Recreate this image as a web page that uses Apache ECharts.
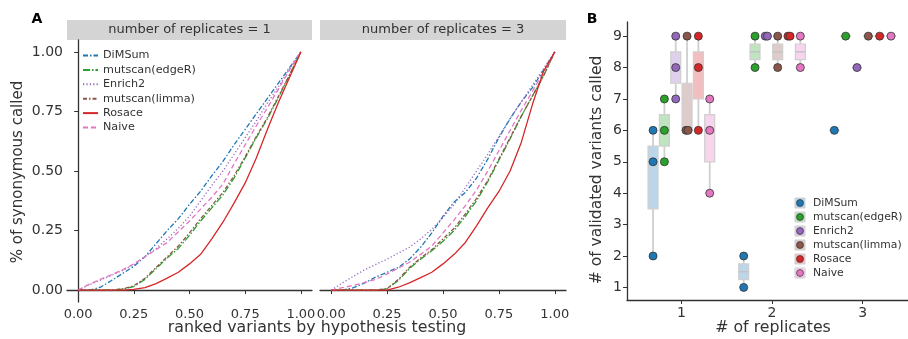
<!DOCTYPE html>
<html><head><meta charset="utf-8">
<script src="https://cdn.jsdelivr.net/npm/echarts@6/dist/echarts.min.js"></script>
<style>html,body{margin:0;padding:0;background:#fff}#c{width:908px;height:339px}</style>
</head><body><div id="c"></div>
<script>
// ---------- DATA ----------
const methods = ['DiMSum','mutscan(edgeR)','Enrich2','mutscan(limma)','Rosace','Naive'];
const facetTitles = ['number of replicates = 1','number of replicates = 3'];
const curveTicks = [0, 0.25, 0.5, 0.75, 1];
const xGrid = [0,0.05,0.1,0.15,0.2,0.25,0.3,0.35,0.4,0.45,0.5,0.55,0.6,0.65,0.7,0.75,0.8,0.85,0.9,0.95,1];
// panel A, 1 replicate
const dimsum1 = [0,0,0.012,0.04,0.07,0.10,0.14,0.195,0.25,0.30,0.36,0.415,0.48,0.54,0.61,0.675,0.74,0.805,0.87,0.935,1];
const edger1  = [0,0,0,0,0.004,0.015,0.045,0.09,0.135,0.175,0.23,0.29,0.345,0.40,0.47,0.555,0.64,0.72,0.81,0.905,1];
const enrich1 = [0,0.022,0.042,0.062,0.083,0.107,0.14,0.175,0.215,0.26,0.31,0.375,0.44,0.50,0.57,0.64,0.71,0.785,0.855,0.93,1];
const limma1  = [0,0,0,0,0.005,0.018,0.05,0.095,0.14,0.185,0.24,0.30,0.355,0.41,0.48,0.56,0.645,0.725,0.815,0.905,1];
const rosace1 = [0,0,0,0,0,0.003,0.01,0.027,0.05,0.075,0.11,0.15,0.215,0.285,0.365,0.45,0.555,0.675,0.79,0.895,1];
const naive1  = [0,0.025,0.045,0.065,0.085,0.11,0.14,0.17,0.20,0.245,0.29,0.34,0.39,0.445,0.53,0.61,0.69,0.765,0.845,0.925,1];
// panel A, 3 replicates
const dimsum3 = [0,0,0.01,0.03,0.055,0.075,0.095,0.13,0.18,0.24,0.31,0.37,0.41,0.47,0.55,0.64,0.72,0.79,0.85,0.925,1];
const edger3  = [0,0,0,0,0,0.005,0.04,0.09,0.13,0.165,0.205,0.25,0.31,0.375,0.455,0.545,0.635,0.73,0.815,0.9,1];
const enrich3 = [0,0.03,0.058,0.085,0.108,0.13,0.155,0.18,0.215,0.255,0.305,0.36,0.43,0.50,0.57,0.645,0.72,0.79,0.86,0.93,1];
const limma3  = [0,0,0,0,0,0.006,0.045,0.095,0.135,0.17,0.215,0.26,0.32,0.385,0.46,0.55,0.64,0.73,0.815,0.9,1];
const rosace3 = [0,0,0,0,0,0,0.012,0.03,0.052,0.075,0.11,0.15,0.20,0.27,0.345,0.414,0.50,0.62,0.78,0.92,1];
const naive3  = [0,0.01,0.02,0.032,0.045,0.068,0.092,0.117,0.15,0.185,0.24,0.295,0.355,0.42,0.50,0.585,0.67,0.755,0.835,0.915,1];
// panel B: validated variants called, per method, per number of replicates
const replicates = [1, 2, 3];
const calledRep1 = [[6,5,2],[7,6,5],[9,8,7],[9,6,6],[9,8,6],[7,6,4]];
const calledRep2 = [[2,1],[9,8],[9,9],[9,8],[9,9],[9,8]];
const calledRep3 = [[6],[9],[8],[9],[9],[9]];
const bTicksY = [1,2,3,4,5,6,7,8,9];
const bTicksX = [1,2,3];

// ---------- STYLE ----------
const colors = ['#1f77b4','#2ca02c','#9467bd','#8c564b','#d62728','#e377c2'];
const dashes = [[5,2,1.5,2],[7,2,1.5,2],[1.2,2.2],[4,2,1.5,2],'solid',[5,3]];
const FONT = 'DejaVu Sans';
const TXT = '#333';

const curves1 = [dimsum1, edger1, enrich1, limma1, rosace1, naive1];
const curves3 = [dimsum3, edger3, enrich3, limma3, rosace3, naive3];
const calledByRep = [calledRep1, calledRep2, calledRep3];

function tint(hex, a) {
  const r = parseInt(hex.slice(1,3),16), g = parseInt(hex.slice(3,5),16), b = parseInt(hex.slice(5,7),16);
  const m = v => Math.round(v*a + 255*(1-a));
  return 'rgb(' + m(r) + ',' + m(g) + ',' + m(b) + ')';
}
function quantile(sorted, q) {
  const pos = (sorted.length - 1) * q, lo = Math.floor(pos), hi = Math.ceil(pos);
  return sorted[lo] + (sorted[hi] - sorted[lo]) * (pos - lo);
}

const series = [];
[curves1, curves3].forEach((set, p) => {
  set.forEach((vals, i) => {
    series.push({
      name: methods[i], type: 'line', xAxisIndex: p, yAxisIndex: p,
      data: xGrid.map((x, k) => [x, vals[k]]),
      showSymbol: false, symbol: 'none', silent: true, animation: false,
      lineStyle: { color: colors[i], width: 1.3, type: dashes[i] },
      itemStyle: { color: colors[i] },
      z: i === 4 ? 3 : 2
    });
  });
});

// boxes
const boxData = [];
const pointsByMethod = methods.map(() => []);
const hueStep = 0.125, boxW = 0.11;
calledByRep.forEach((perMethod, r) => {
  perMethod.forEach((vals, i) => {
    const xc = replicates[r] + (i - 2.5) * hueStep;
    const s = vals.slice().sort((a, b) => a - b);
    boxData.push([xc, quantile(s, 0.25), quantile(s, 0.5), quantile(s, 0.75), s[0], s[s.length - 1], i]);
    const seen = {};
    vals.forEach(v => {
      const dup = vals.filter(u => u === v).length > 1;
      let dx = 0;
      if (dup) { dx = seen[v] ? 0.012 : -0.012; seen[v] = true; }
      pointsByMethod[i].push([xc + dx, v]);
    });
  });
});

series.push({
  type: 'custom', xAxisIndex: 2, yAxisIndex: 2, silent: true, animation: false, z: 2,
  data: boxData,
  renderItem: function (params, api) {
    const x = api.value(0), q1 = api.value(1), med = api.value(2), q3 = api.value(3);
    const lo = api.value(4), hi = api.value(5), m = api.value(6);
    const w = api.size([boxW, 0])[0];
    const pLo = api.coord([x, lo]), pHi = api.coord([x, hi]);
    const pQ1 = api.coord([x, q1]), pQ3 = api.coord([x, q3]), pM = api.coord([x, med]);
    const grey = '#cfcfcf';
    return { type: 'group', children: [
      { type: 'line', shape: { x1: pLo[0], y1: pLo[1], x2: pQ1[0], y2: pQ1[1] }, style: { stroke: grey, lineWidth: 1.8 } },
      { type: 'line', shape: { x1: pQ3[0], y1: pQ3[1], x2: pHi[0], y2: pHi[1] }, style: { stroke: grey, lineWidth: 1.8 } },
      { type: 'rect', shape: { x: pQ3[0] - w / 2, y: pQ3[1], width: w, height: Math.max(pQ1[1] - pQ3[1], 0) },
        style: { fill: tint(colors[m], 0.3), stroke: grey, lineWidth: 1.2 } },
      { type: 'line', shape: { x1: pM[0] - w / 2, y1: pM[1], x2: pM[0] + w / 2, y2: pM[1] }, style: { stroke: '#c4c4c4', lineWidth: 1.5 } }
    ]};
  }
});
methods.forEach((m, i) => {
  series.push({
    name: 'pts-' + m, type: 'scatter', xAxisIndex: 2, yAxisIndex: 2, silent: true, animation: false, z: 5,
    data: pointsByMethod[i], symbolSize: 8,
    itemStyle: { color: colors[i], borderColor: '#333', borderWidth: 0.8, opacity: 1 }
  });
});

const axisLineStyle = { lineStyle: { color: '#333', width: 1.3 } };
const tickStyle = { show: true, length: 4, lineStyle: { color: '#333', width: 1 } };
const labelBase = { fontFamily: FONT, color: TXT };

function curveX() {
  return {
    type: 'value', min: -0.05, max: 1.05, splitLine: { show: false },
    axisLine: axisLineStyle,
    axisTick: Object.assign({ customValues: curveTicks }, tickStyle),
    axisLabel: Object.assign({ customValues: curveTicks, fontSize: 13, margin: 6, formatter: v => v.toFixed(2) }, labelBase)
  };
}

const graphics = [];
[[67, 245], [320, 246]].forEach((g, p) => {
  graphics.push({ type: 'rect', silent: true, shape: { x: g[0], y: 20, width: g[1], height: 20 }, style: { fill: '#d4d4d4' } });
  graphics.push({ type: 'text', silent: true, x: g[0] + g[1] / 2, y: 30,
    style: { text: facetTitles[p], align: 'center', verticalAlign: 'middle', font: '13px "' + FONT + '"', fill: TXT } });
});
graphics.push({ type: 'text', x: 37, y: 19, style: { text: 'A', align: 'center', verticalAlign: 'middle', font: 'bold 14px "' + FONT + '"', fill: '#000' } });
graphics.push({ type: 'text', x: 592, y: 19, style: { text: 'B', align: 'center', verticalAlign: 'middle', font: 'bold 14px "' + FONT + '"', fill: '#000' } });
graphics.push({ type: 'text', x: 18, y: 172, rotation: Math.PI / 2,
  style: { text: '% of synonymous called', align: 'center', verticalAlign: 'middle', font: '15px "' + FONT + '"', fill: TXT } });
graphics.push({ type: 'text', x: 317, y: 328,
  style: { text: 'ranked variants by hypothesis testing', align: 'center', verticalAlign: 'middle', font: '15.8px "' + FONT + '"', fill: TXT } });
graphics.push({ type: 'text', x: 597, y: 170, rotation: Math.PI / 2,
  style: { text: '# of validated variants called', align: 'center', verticalAlign: 'middle', font: '15.5px "' + FONT + '"', fill: TXT } });
graphics.push({ type: 'text', x: 773, y: 328,
  style: { text: '# of replicates', align: 'center', verticalAlign: 'middle', font: '15.8px "' + FONT + '"', fill: TXT } });
methods.forEach((m, i) => {
  const y = 203 + i * 14;
  graphics.push({ type: 'rect', silent: true, shape: { x: 795, y: y - 5, width: 10, height: 10 }, style: { fill: tint(colors[i], 0.3), stroke: '#cfcfcf', lineWidth: 1 } });
  graphics.push({ type: 'circle', silent: true, shape: { cx: 800, cy: y, r: 3.5 }, style: { fill: colors[i], stroke: '#333', lineWidth: 0.7 } });
  graphics.push({ type: 'text', silent: true, x: 813, y: y,
    style: { text: m, align: 'left', verticalAlign: 'middle', font: '10.8px "' + FONT + '"', fill: TXT } });
});

const option = {
  animation: false,
  backgroundColor: '#fff',
  textStyle: { fontFamily: FONT },
  legend: {
    data: methods, orient: 'vertical', left: 82, top: 50, padding: 0,
    itemWidth: 15, itemHeight: 8, itemGap: 3.4, selectedMode: false,
    itemStyle: { opacity: 0, borderWidth: 0 },
    textStyle: { fontFamily: FONT, fontSize: 11.2, lineHeight: 11, color: TXT, padding: [0, 0, 0, 0] }
  },
  grid: [
    { left: 67, top: 40, width: 245, height: 262 },
    { left: 320, top: 40, width: 246, height: 262 },
    { left: 627, top: 22, width: 281, height: 278 }
  ],
  xAxis: [
    Object.assign(curveX(), { gridIndex: 0 }),
    Object.assign(curveX(), { gridIndex: 1 }),
    { gridIndex: 2, type: 'value', min: 0.4, max: 3.5, splitLine: { show: false }, axisLine: axisLineStyle,
      axisTick: Object.assign({ customValues: bTicksX }, tickStyle),
      axisLabel: Object.assign({ customValues: bTicksX, fontSize: 14, margin: 6 }, labelBase) }
  ],
  yAxis: [
    { gridIndex: 0, type: 'value', min: -0.05, max: 1.05, splitLine: { show: false }, axisLine: Object.assign({ show: true }, axisLineStyle),
      axisTick: Object.assign({ customValues: curveTicks }, tickStyle),
      axisLabel: Object.assign({ customValues: curveTicks, fontSize: 14, margin: 4, formatter: v => v.toFixed(2) }, labelBase) },
    { gridIndex: 1, type: 'value', min: -0.05, max: 1.05, show: false, splitLine: { show: false } },
    { gridIndex: 2, type: 'value', min: 0.6, max: 9.45, splitLine: { show: false }, axisLine: Object.assign({ show: true }, axisLineStyle),
      axisTick: Object.assign({ customValues: bTicksY }, tickStyle),
      axisLabel: Object.assign({ customValues: bTicksY, fontSize: 14, margin: 5 }, labelBase) }
  ],
  graphic: graphics,
  series: series
};
const chart = echarts.init(document.getElementById('c'), null, { renderer: 'canvas' });
chart.setOption(option);
</script></body></html>
